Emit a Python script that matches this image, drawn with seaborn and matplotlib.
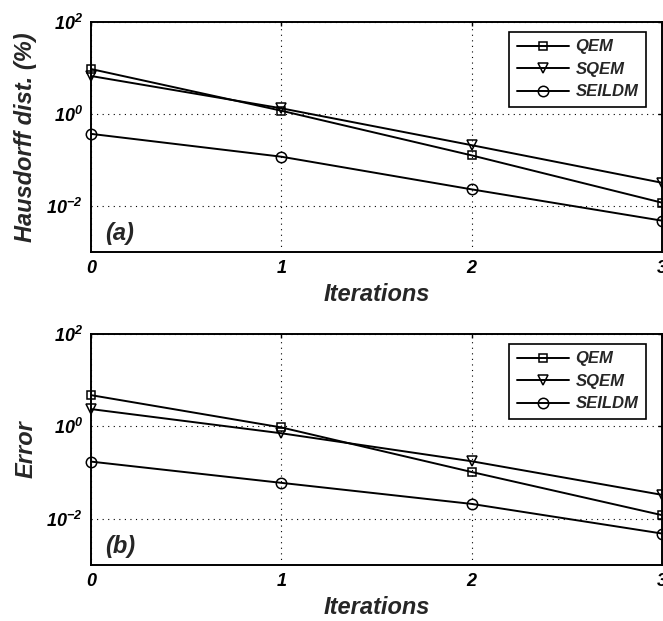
import numpy as np
import pandas as pd
import matplotlib
matplotlib.use('Agg')
import matplotlib.pyplot as plt
import seaborn as sns
from matplotlib.ticker import NullLocator

sns.set_style('white')
plt.rcParams['font.family'] = ['Liberation Sans', 'DejaVu Sans']
plt.rcParams['font.weight'] = 'bold'
plt.rcParams['font.style'] = 'italic'
plt.rcParams['mathtext.fontset'] = 'custom'
plt.rcParams['mathtext.rm'] = 'Liberation Sans:bold:italic'
plt.rcParams['mathtext.it'] = 'Liberation Sans:bold:italic'
plt.rcParams['mathtext.bf'] = 'Liberation Sans:bold:italic'

# 데이터
iterations = [0, 1, 2, 3]
methods = ['QEM', 'SQEM', 'SEILDM']
markers = {'QEM': 's', 'SQEM': 'v', 'SEILDM': 'o'}
msizes = {'QEM': 6, 'SQEM': 7.5, 'SEILDM': 7.5}

haus_qem = [9.5, 1.18, 0.126, 0.0118]
haus_sqem = [6.7, 1.33, 0.21, 0.032]
haus_seildm = [0.37, 0.118, 0.023, 0.0048]

err_qem = [4.75, 0.95, 0.103, 0.012]
err_sqem = [2.37, 0.71, 0.176, 0.033]
err_seildm = [0.173, 0.06, 0.021, 0.0048]

panels = [
    ('Hausdorff dist. (%)', '(a)', [haus_qem, haus_sqem, haus_seildm]),
    ('Error', '(b)', [err_qem, err_sqem, err_seildm]),
]

fig = plt.figure(figsize=(6.63, 6.21), dpi=100)
W, H = 663, 621
boxes = [(91, 22, 662, 252), (91, 334, 662, 565)]

for (ylab, tag, series), (x0, y0, x1, y1) in zip(panels, boxes):
    ax = fig.add_axes([x0 / W, 1 - y1 / H, (x1 - x0) / W, (y1 - y0) / H])

    df = pd.DataFrame({
        'Iterations': iterations * 3,
        'value': sum(series, []),
        'Method': np.repeat(methods, len(iterations)),
    })

    for m in methods:
        sns.lineplot(data=df[df['Method'] == m], x='Iterations', y='value',
                     marker=markers[m], markersize=msizes[m], color='k',
                     markerfacecolor='none', markeredgecolor='k',
                     markeredgewidth=1.1, linewidth=1.4, clip_on=False,
                     legend=False, ax=ax, label=m)

    ax.set_yscale('log')
    ax.set_xlim(0, 3)
    ax.set_ylim(1e-3, 1e2)
    ax.set_xticks(iterations)
    ax.set_xticklabels([str(i) for i in iterations])
    ax.set_yticks([1e-2, 1e0, 1e2])
    ax.yaxis.set_minor_locator(NullLocator())

    ax.grid(True, which='major', color='k', linestyle=(0, (1, 4)), linewidth=0.8)
    for s in ax.spines.values():
        s.set_visible(True)
        s.set_color('k')
        s.set_linewidth(1.4)

    ax.tick_params(axis='both', which='major', direction='in', length=3, width=1,
                   top=True, right=True, labelsize=13, pad=6, colors='k')

    ax.set_xlabel('Iterations', fontsize=17, fontweight='bold', fontstyle='italic')
    ax.set_ylabel(ylab, fontsize=17, fontweight='bold', fontstyle='italic')
    ax.xaxis.label.set_va('center')
    ax.yaxis.label.set_va('center')
    ax.xaxis.set_label_coords(0.5, -0.183)
    ax.yaxis.set_label_coords(-0.114, 0.5)

    ax.text(0.024, 0.08, tag, transform=ax.transAxes, fontsize=17,
            fontweight='bold', fontstyle='italic', va='center', ha='left')

    leg = ax.legend(handles=ax.lines[:3], labels=methods, loc='upper right',
                    bbox_to_anchor=(0.972, 0.957), borderaxespad=0,
                    fontsize=12, handlelength=3.1, handletextpad=0.42,
                    labelspacing=0.45, borderpad=0.45, fancybox=False,
                    framealpha=1, edgecolor='k')
    leg.get_frame().set_linewidth(1.2)

fig.savefig('out.png', dpi=100)
